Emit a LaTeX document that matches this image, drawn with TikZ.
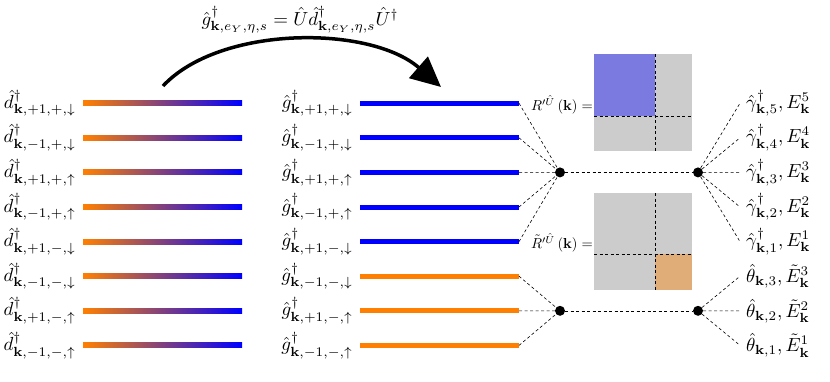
\documentclass[tikz,border=0pt]{standalone}
\usepackage{graphicx}
\usepackage{amsmath,amssymb}
\usetikzlibrary{arrows.meta}
\definecolor{orgc}{RGB}{255,128,0}
\definecolor{bluec}{RGB}{0,0,255}
\definecolor{mblue}{RGB}{122,122,224}
\definecolor{morange}{RGB}{224,172,120}
\definecolor{mgray}{RGB}{204,204,204}
\newcommand{\mylbl}[1]{\scalebox{1.9}{$#1$}}
\newcommand{\mysml}[1]{\scalebox{1.45}{$#1$}}
\begin{document}
\begin{tikzpicture}[x=1bp,y=-1bp,
  lbl/.style={inner sep=0pt},
  dotnode/.style={circle, fill=black, inner sep=0pt, minimum size=10bp},
  conn/.style={line width=0.6bp, dash pattern=on 3bp off 2.5bp},
  bar/.style={line width=5bp},
]
\useasboundingbox (0,0) rectangle (830,381);

% top formula and arrow
\node[lbl] (top) at (300,20) {\mylbl{\hat g^\dagger_{\mathbf{k},e_Y,\eta,s} = \hat U \hat d^\dagger_{\mathbf{k},e_Y,\eta,s}\hat U^\dagger}};
\coordinate (as) at (163,86);
\coordinate (ae) at (441,87);
\draw[line width=3.5bp, -{Triangle[length=30bp,width=28bp]}] (as) .. controls (220,25) and (370,25) .. (ae);

% rows
\foreach \i/\e/\p/\s in {0/+1/+/\downarrow, 1/-1/+/\downarrow, 2/+1/+/\uparrow, 3/-1/+/\uparrow, 4/+1/-/\downarrow, 5/-1/-/\downarrow, 6/+1/-/\uparrow, 7/-1/-/\uparrow}{
  \pgfmathsetmacro{\y}{103.2+34.6*\i}
  \pgfmathsetmacro{\ya}{\y-2.5}
  \pgfmathsetmacro{\yb}{\y+2.5}
  \node[lbl, anchor=east] (dl\i) at (76,\y) {\mylbl{\hat d^\dagger_{\mathbf{k},\e,\p,\s}}};
  \shade[left color=orgc, right color=bluec] (83,\ya) rectangle (242,\yb);
  \node[lbl, anchor=east] (gl\i) at (353,\y) {\mylbl{\hat g^\dagger_{\mathbf{k},\e,\p,\s}}};
  \coordinate (ga\i) at (360,\y);
  \coordinate (gb\i) at (519,\y);
  \coordinate (r\i) at (740,\y);
}
\foreach \i in {0,...,4}{ \draw[bar, bluec] (ga\i) -- (gb\i); }
\foreach \i in {5,6,7}{ \draw[bar, orgc] (ga\i) -- (gb\i); }

% dots
\node[dotnode] (d1) at (560,172.4) {};
\node[dotnode] (d2) at (698,172.4) {};
\node[dotnode] (d3) at (560,310.8) {};
\node[dotnode] (d4) at (698,310.8) {};

\foreach \i in {0,...,4}{ \draw[conn] (gb\i) -- (d1); \draw[conn] (d2) -- (r\i); }
\foreach \i in {5,6,7}{ \draw[conn] (gb\i) -- (d3); \draw[conn] (d4) -- (r\i); }
\draw[conn] (d1) -- (d2);
\draw[conn] (d3) -- (d4);

% right labels
\node[lbl, anchor=west] (e5) at (746,103.2) {\mylbl{\hat\gamma^\dagger_{\mathbf{k},5}, E^5_{\mathbf{k}}}};
\node[lbl, anchor=west] (e4) at (746,137.8) {\mylbl{\hat\gamma^\dagger_{\mathbf{k},4}, E^4_{\mathbf{k}}}};
\node[lbl, anchor=west] (e3) at (746,172.4) {\mylbl{\hat\gamma^\dagger_{\mathbf{k},3}, E^3_{\mathbf{k}}}};
\node[lbl, anchor=west] (e2) at (746,207.0) {\mylbl{\hat\gamma^\dagger_{\mathbf{k},2}, E^2_{\mathbf{k}}}};
\node[lbl, anchor=west] (e1) at (746,241.6) {\mylbl{\hat\gamma^\dagger_{\mathbf{k},1}, E^1_{\mathbf{k}}}};
\node[lbl, anchor=west] (t3) at (746,276.2) {\mylbl{\hat\theta_{\mathbf{k},3}, \tilde E^3_{\mathbf{k}}}};
\node[lbl, anchor=west] (t2) at (746,310.8) {\mylbl{\hat\theta_{\mathbf{k},2}, \tilde E^2_{\mathbf{k}}}};
\node[lbl, anchor=west] (t1) at (746,345.4) {\mylbl{\hat\theta_{\mathbf{k},1}, \tilde E^1_{\mathbf{k}}}};

% matrices
\fill[mgray] (594,54) rectangle (692,151);
\fill[mblue] (594,54) rectangle (655,116);
\draw[conn] (655,54) -- (655,151);
\draw[conn] (594,116) -- (692,116);
\node[lbl, anchor=east] (rl1) at (593,105) {\mysml{R^{\prime\hat U}\left(\mathbf{k}\right)=}};

\fill[mgray] (594,193) rectangle (692,290);
\fill[morange] (655,254) rectangle (692,290);
\draw[conn] (655,193) -- (655,290);
\draw[conn] (594,254) -- (692,254);
\node[lbl, anchor=east] (rl2) at (593,243) {\mysml{\tilde R^{\prime\hat U}\left(\mathbf{k}\right)=}};
\end{tikzpicture}
\end{document}
